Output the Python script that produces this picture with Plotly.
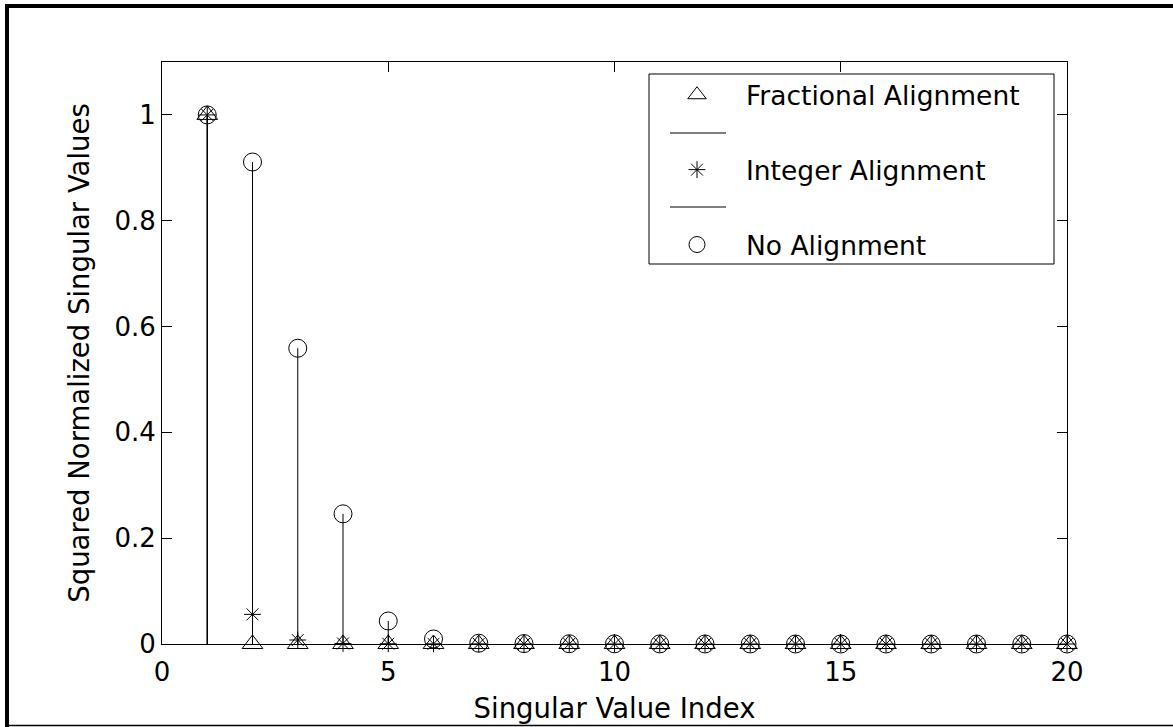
import plotly.graph_objects as go

# ---- data ----
index = list(range(1, 21))
fractional = [1.0, 0.0, 0.0, 0.0, 0.0, 0.0, 0.0, 0.0, 0.0, 0.0,
              0.0, 0.0, 0.0, 0.0, 0.0, 0.0, 0.0, 0.0, 0.0, 0.0]
integer = [1.0, 0.056, 0.0075, 0.001, 0.0005, 0.0003, 0.0002, 0.0001, 0.0001, 0.0,
           0.0, 0.0, 0.0, 0.0, 0.0, 0.0, 0.0, 0.0, 0.0, 0.0]
no_align = [1.0, 0.911, 0.559, 0.246, 0.0435, 0.0095, 0.0015, 0.0008, 0.0005, 0.0003,
            0.0002, 0.0001, 0.0001, 0.0, 0.0, 0.0, 0.0, 0.0, 0.0, 0.0]
labels = ["Fractional Alignment", "Integer Alignment", "No Alignment"]
x_ticks = [0, 5, 10, 15, 20]
y_ticks = [0, 0.2, 0.4, 0.6, 0.8, 1.0]
y_tick_text = ["0", "0.2", "0.4", "0.6", "0.8", "1"]

FONT = "DejaVu Sans"


def stems(xs, ys):
    sx, sy = [], []
    for a, b in zip(xs, ys):
        sx += [a, a, None]
        sy += [0, b, None]
    return sx, sy


fig = go.Figure()
series = [(fractional, "triangle-up-open", 18, 17), (integer, "asterisk-open", 14, 14),
          (no_align, "circle-open", 18, 17)]

# stems (drawn first)
for vals, sym, ms, lms in series:
    sx, sy = stems(index, vals)
    fig.add_trace(go.Scatter(x=sx, y=sy, mode="lines", line=dict(color="black", width=1),
                             showlegend=False, hoverinfo="skip"))
# markers
for vals, sym, ms, lms in series:
    fig.add_trace(go.Scatter(x=index, y=vals, mode="markers", showlegend=False,
                             marker=dict(symbol=sym, size=ms, color="black",
                                         line=dict(color="black", width=1)),
                             cliponaxis=False))

# legend-only entries (MATLAB-style stem legend: marker / blank line / marker ...)
leg = [(labels[0], "markers", series[0][1], series[0][3]),
       (" ", "lines", None, None),
       (labels[1], "markers", series[1][1], series[1][3]),
       ("  ", "lines", None, None),
       (labels[2], "markers", series[2][1], series[2][3])]
for i, (name, mode, sym, lms) in enumerate(leg):
    kw = dict(x=[None], y=[None], mode=mode, name=name, legendgroup=f"g{i}", showlegend=True)
    if mode == "markers":
        kw["marker"] = dict(symbol=sym, size=lms, color="black", line=dict(color="black", width=1))
    else:
        kw["line"] = dict(color="rgba(0,0,0,0)", width=0)
    fig.add_trace(go.Scatter(**kw))

L, R, T, B = 162, 1173 - 1067, 62, 727 - 644
W, H = 1173 - L - R, 727 - T - B

def px_x(p):
    return (p - L) / W

def px_y(p):
    return (727 - B - p) / H

axis_common = dict(showline=True, linecolor="black", linewidth=1, mirror="ticks",
                   ticks="inside", ticklen=10, tickcolor="black", tickwidth=1,
                   showgrid=False, zeroline=False, automargin=False,
                   tickfont=dict(family=FONT, size=26, color="black"))

fig.update_layout(
    width=1173, height=727,
    margin=dict(l=L, r=R, t=T, b=B, pad=0, autoexpand=False),
    paper_bgcolor="white", plot_bgcolor="white",
    xaxis=dict(range=[0, 20], tickvals=x_ticks, ticktext=[str(v) for v in x_ticks],
               ticklabelstandoff=5,
               title=dict(text="Singular Value Index", font=dict(family=FONT, size=27.5, color="black"),
                          standoff=12),
               **axis_common),
    yaxis=dict(range=[0, 1.1], tickvals=y_ticks, ticktext=y_tick_text,
               title=dict(text="Squared Normalized Singular Values",
                          font=dict(family=FONT, size=27.5, color="black"), standoff=16),
               **axis_common),
    legend=dict(x=px_x(648), y=px_y(71), xanchor="left", yanchor="top",
                bgcolor="rgba(255,255,255,0)", borderwidth=0,
                font=dict(family=FONT, size=26.5, color="black"),
                itemwidth=88, tracegroupgap=0, traceorder="grouped"),
    shapes=[
        # legend box and its MATLAB-style stem line samples
        dict(type="rect", xref="paper", yref="paper", x0=px_x(649), x1=px_x(1054),
             y0=px_y(264), y1=px_y(74), line=dict(color="black", width=1), fillcolor="white",
             layer="above"),
        dict(type="line", xref="paper", yref="paper", x0=px_x(670), x1=px_x(726),
             y0=px_y(133), y1=px_y(133), line=dict(color="black", width=1)),
        dict(type="line", xref="paper", yref="paper", x0=px_x(670), x1=px_x(726),
             y0=px_y(207), y1=px_y(207), line=dict(color="black", width=1)),
        # outer figure frame
        dict(type="line", xref="paper", yref="paper", x0=px_x(5), x1=px_x(1180),
             y0=px_y(6), y1=px_y(6), line=dict(color="black", width=4)),
        dict(type="line", xref="paper", yref="paper", x0=px_x(7), x1=px_x(7),
             y0=px_y(4), y1=px_y(730), line=dict(color="black", width=4)),
        dict(type="line", xref="paper", yref="paper", x0=px_x(5), x1=px_x(1180),
             y0=px_y(725.5), y1=px_y(725.5), line=dict(color="black", width=1.5)),
    ],
)

fig.write_html("out.html")
